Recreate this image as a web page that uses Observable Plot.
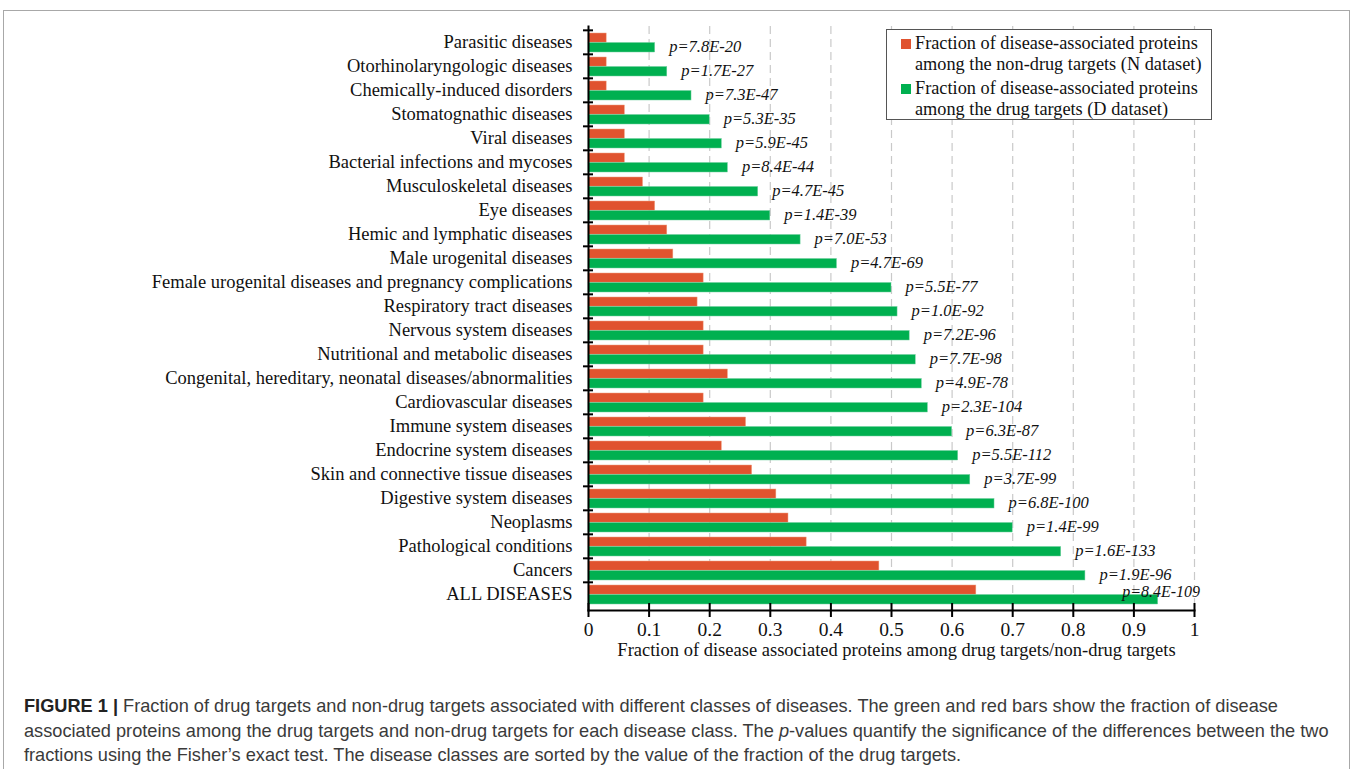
<!DOCTYPE html>
<html>
<head>
<meta charset="utf-8">
<script src="https://cdn.jsdelivr.net/npm/d3@7"></script>
<script src="https://cdn.jsdelivr.net/npm/@observablehq/plot@0.6"></script>
<style>
  html, body { margin: 0; padding: 0; background: #fff; }
  #page { position: relative; width: 1355px; height: 769px; overflow: hidden; }
  #frame { position: absolute; left: 3px; top: 10px; width: 1347px; height: 780px; border: 1.5px solid #a8a8a8; box-sizing: border-box; }
  #chart { position: absolute; left: 0; top: 0; }
  #legend { position: absolute; left: 886px; top: 29px; width: 326px; height: 91px; border: 1.3px solid #555; background: #fff; box-sizing: border-box; font-family: "Liberation Serif", serif; font-size: 18.3px; color: #111; }
  .entry { position: absolute; left: 28px; line-height: 20.5px; white-space: nowrap; }
  .sw { position: absolute; left: -14px; top: 6px; width: 10px; height: 10px; }
  #caption { position: absolute; left: 24px; top: 694px; font-family: "Liberation Sans", Arial, sans-serif; font-size: 18.2px; line-height: 24.7px; color: #3a3a3a; white-space: nowrap; }
  #caption b { color: #222; }
</style>
</head>
<body>
<div id="page">
  <div id="frame"></div>
  <div id="chart"></div>
  <div id="legend"></div>
  <div id="caption"><b>FIGURE 1 |</b> Fraction of drug targets and non-drug targets associated with different classes of diseases. The green and red bars show the fraction of disease<br>associated proteins among the drug targets and non-drug targets for each disease class. The <i>p</i>-values quantify the significance of the differences between the two<br>fractions using the Fisher’s exact test. The disease classes are sorted by the value of the fraction of the drug targets.</div>
</div>
<script>
const categories = [
  "Parasitic diseases",
  "Otorhinolaryngologic diseases",
  "Chemically-induced disorders",
  "Stomatognathic diseases",
  "Viral diseases",
  "Bacterial infections and mycoses",
  "Musculoskeletal diseases",
  "Eye diseases",
  "Hemic and lymphatic diseases",
  "Male urogenital diseases",
  "Female urogenital diseases and pregnancy complications",
  "Respiratory tract diseases",
  "Nervous system diseases",
  "Nutritional and metabolic diseases",
  "Congenital, hereditary, neonatal diseases/abnormalities",
  "Cardiovascular diseases",
  "Immune system diseases",
  "Endocrine system diseases",
  "Skin and connective tissue diseases",
  "Digestive system diseases",
  "Neoplasms",
  "Pathological conditions",
  "Cancers",
  "ALL DISEASES"
];
const nonDrugTargets = [0.03,0.03,0.03,0.06,0.06,0.06,0.09,0.11,0.13,0.14,0.19,0.18,0.19,0.19,0.23,0.19,0.26,0.22,0.27,0.31,0.33,0.36,0.48,0.64];
const drugTargets    = [0.11,0.13,0.17,0.20,0.22,0.23,0.28,0.30,0.35,0.41,0.50,0.51,0.53,0.54,0.55,0.56,0.60,0.61,0.63,0.67,0.70,0.78,0.82,0.94];
const pValues = ["7.8E-20","1.7E-27","7.3E-47","5.3E-35","5.9E-45","8.4E-44","4.7E-45","1.4E-39","7.0E-53","4.7E-69","5.5E-77","1.0E-92","7.2E-96","7.7E-98","4.9E-78","2.3E-104","6.3E-87","5.5E-112","3.7E-99","6.8E-100","1.4E-99","1.6E-133","1.9E-96","8.4E-109"];
const xTicks = [0,0.1,0.2,0.3,0.4,0.5,0.6,0.7,0.8,0.9,1];
const xTitle = "Fraction of disease associated proteins among drug targets/non-drug targets";
const seriesNames = [
  "Fraction of disease-associated proteins among the non-drug targets (N dataset)",
  "Fraction of disease-associated proteins among the drug targets (D dataset)"
];
const legendLines = [
  ["Fraction of disease-associated proteins", "among the non-drug targets (N dataset)"],
  ["Fraction of disease-associated proteins", "among the drug targets (D dataset)"]
];
const RED = "#E0532F", GREEN = "#00B050";

const rows = categories.map((c, i) => ({cat: c, n: nonDrugTargets[i], d: drugTargets[i], p: "p=" + pValues[i]}));
const last = categories[categories.length - 1];

const W = 1355, H = 680, mT = 26, mB = 70, mL = 588, mR = 161;
const bw = (H - mT - mB) / categories.length;

const chart = Plot.plot({
  width: W, height: H,
  marginTop: mT, marginBottom: mB, marginLeft: mL, marginRight: mR,
  style: {fontFamily: "Liberation Serif, serif", color: "#000", background: "transparent", overflow: "visible"},
  x: {domain: [0, 1], axis: null},
  y: {domain: categories, padding: 0, axis: null},
  marks: [
    Plot.gridX(xTicks.slice(1), {stroke: "#c9c9c9", strokeOpacity: 1, strokeDasharray: "8,5", strokeWidth: 1.2}),
    Plot.barX(rows, {y: "cat", x: "n", fill: RED, stroke: "#f0a080", strokeWidth: 0.5, insetTop: 3, insetBottom: bw - 12.5}),
    Plot.barX(rows, {y: "cat", x: "d", fill: GREEN, stroke: "#70d0a0", strokeWidth: 0.5, insetTop: 12.5, insetBottom: 2}),
    Plot.frame({anchor: "left", stroke: "#000", strokeWidth: 2}),
    Plot.frame({anchor: "bottom", stroke: "#000", strokeWidth: 2}),
    Plot.axisY({tickSize: 0, tickPadding: 16, fontSize: 18.5, label: null, fill: "#111"}),
    Plot.axisY({fill: "none", tickSize: 10, dx: 5, dy: -bw / 2, strokeWidth: 2, label: null}),
    Plot.axisX(xTicks, {tickSize: 0, tickPadding: 12, fontSize: 19.5, label: null, fill: "#111", tickFormat: d => String(d)}),
    Plot.axisX(xTicks, {fill: "none", tickSize: 14, dy: -7, strokeWidth: 2, label: null}),
    Plot.text(rows.filter(r => r.cat !== last), {x: "d", y: "cat", text: "p", dx: 14, dy: 4, textAnchor: "start", fontStyle: "italic", fontSize: 16.5, fill: "#111"}),
    Plot.text(rows.filter(r => r.cat === last), {x: "d", y: "cat", text: "p", dx: -36, dy: -3, textAnchor: "start", fontStyle: "italic", fontSize: 16, fill: "#111"}),
    Plot.text([xTitle], {frameAnchor: "bottom", dx: 5, dy: 45, fontSize: 18.5, fill: "#111"})
  ]
});
document.getElementById("chart").appendChild(chart);

const legend = document.getElementById("legend");
[RED, GREEN].forEach((col, i) => {
  const e = document.createElement("div");
  e.className = "entry";
  e.style.top = (3 + i * 45) + "px";
  e.title = seriesNames[i];
  e.innerHTML = `<span class="sw" style="background:${col}"></span>${legendLines[i][0]}<br>${legendLines[i][1]}`;
  legend.appendChild(e);
});
</script>
</body>
</html>
